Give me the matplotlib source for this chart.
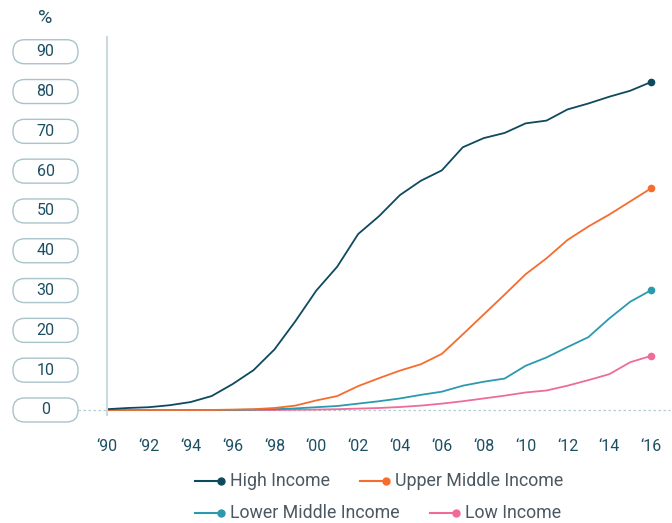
import matplotlib.pyplot as plt
from matplotlib.patches import FancyBboxPatch
from matplotlib.lines import Line2D
from matplotlib.transforms import IdentityTransform, blended_transform_factory

years = list(range(1990, 2017))
high_income = [0.2, 0.5, 0.7, 1.2, 2.0, 3.5, 6.5, 10.0, 15.2, 22.3, 30.0, 36.0, 44.2, 48.7, 54.0,
               57.6, 60.2, 66.0, 68.3, 69.6, 72.0, 72.7, 75.5, 77.0, 78.7, 80.2, 82.4]
upper_middle = [0.0, 0.0, 0.0, 0.0, 0.0, 0.0, 0.1, 0.2, 0.5, 1.1, 2.4, 3.5, 6.0, 8.0, 9.9,
                11.5, 14.1, 19.0, 24.0, 29.0, 34.1, 38.1, 42.7, 46.1, 49.1, 52.4, 55.7]
lower_middle = [0.0, 0.0, 0.0, 0.0, 0.0, 0.0, 0.0, 0.1, 0.2, 0.4, 0.7, 1.0, 1.6, 2.2, 2.9,
                3.8, 4.6, 6.1, 7.1, 7.9, 11.1, 13.2, 15.8, 18.3, 23.0, 27.2, 30.1]
low_income = [0.0, 0.0, 0.0, 0.0, 0.0, 0.0, 0.0, 0.0, 0.0, 0.05, 0.1, 0.2, 0.35, 0.5, 0.75,
              1.1, 1.6, 2.2, 2.9, 3.6, 4.4, 4.9, 6.1, 7.5, 9.0, 12.0, 13.6]

series = [
    ("High Income", high_income, "#0e4a5f"),
    ("Upper Middle Income", upper_middle, "#f46d2e"),
    ("Lower Middle Income", lower_middle, "#2a9aae"),
    ("Low Income", low_income, "#ee6c9a"),
]
y_ticks = [0, 10, 20, 30, 40, 50, 60, 70, 80, 90]
x_ticks = list(range(1990, 2017, 2))
x_labels = ["\u2018%02d" % (y % 100) for y in x_ticks]

plt.rcParams["font.family"] = ["Roboto", "DejaVu Sans"]
tick_color = "#1d4f62"
legend_color = "#4b5862"

fig = plt.figure(figsize=(6.72, 5.23), dpi=100)
ax = fig.add_axes([107 / 672, 108 / 523, 563 / 672, 378 / 523])

for name, vals, col in series[::-1]:
    ax.plot(years, vals, color=col, lw=1.3, solid_joinstyle="round")
    ax.plot(years[-1], vals[-1], "o", color=col, ms=4.5)

ax.set_xlim(1990, 2016.9)
ax.set_ylim(-1.26, 93.7)
ax.set_xticks(x_ticks)
ax.set_xticklabels(x_labels)
ax.set_yticks([])
ax.tick_params(axis="x", length=0, pad=17, labelsize=11.5, labelcolor=tick_color)
for s in ["top", "right", "bottom"]:
    ax.spines[s].set_visible(False)
ax.spines["left"].set_color("#cbdadf")
ax.spines["left"].set_linewidth(1.5)

# dotted zero line extending out to the label box
blend = blended_transform_factory(fig.transFigure, ax.transData)
ax.add_line(Line2D([78 / 672, 670 / 672], [0, 0], transform=blend, color="#b3cbd3",
                   lw=0.9, ls=(0, (2, 2)), clip_on=False, zorder=0))

# rounded y-axis labels
for v in y_ticks:
    yc = ax.transData.transform((1990, v))[1]
    box = FancyBboxPatch((13 + 11.5, yc - 0.5), 65 - 23, 1,
                         boxstyle="round,pad=11.5,rounding_size=11.5",
                         transform=IdentityTransform(), fc="white", ec="#a9c3cb", lw=1.0)
    fig.add_artist(box)
    fig.text(45.5 / 672, yc / 523, str(v), ha="center", va="center", fontsize=11.5,
             color=tick_color)

fig.text(45.5 / 672, 1 - 18 / 523, "%", ha="center", va="center", fontsize=14,
         color=tick_color)

# legend
legend_pos = [(195, 481), (360, 481), (195, 513), (430, 513)]
for (name, vals, col), (lx, ly) in zip(series, legend_pos):
    fy = 523 - ly
    fig.add_artist(Line2D([lx, lx + 26], [fy, fy], transform=IdentityTransform(),
                          color=col, lw=1.5))
    fig.add_artist(Line2D([lx + 26], [fy], transform=IdentityTransform(),
                          color=col, marker="o", ms=5))
    fig.text((lx + 35) / 672, fy / 523, name, ha="left", va="center", fontsize=12.8,
             color=legend_color)

fig.savefig("out.png", dpi=100)
